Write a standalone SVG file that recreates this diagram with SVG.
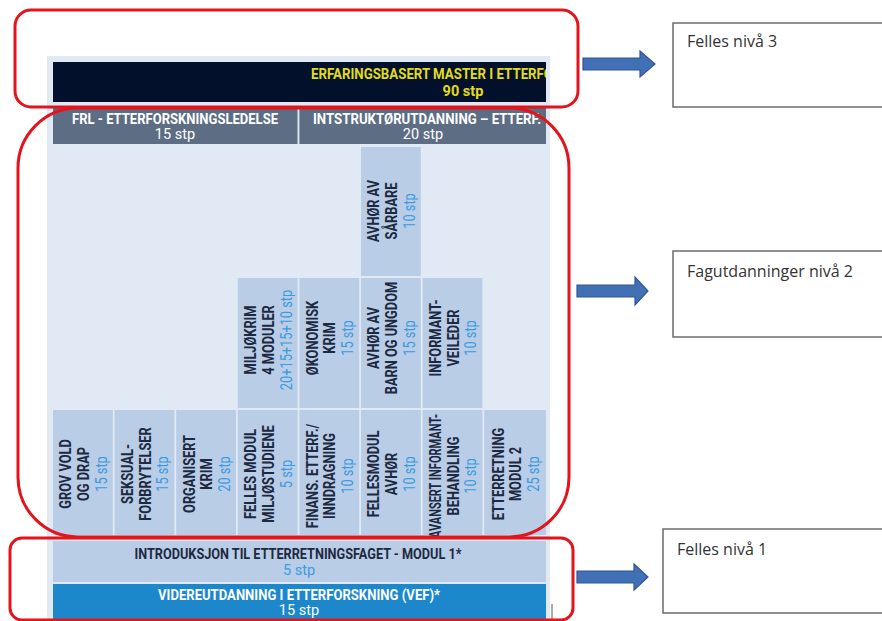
<svg xmlns="http://www.w3.org/2000/svg" width="882" height="621" viewBox="0 0 882 621">
<style>
.panel{fill:#e1e9f4}
.col{fill:#bacde7}
.t{font-family:Roboto,"Liberation Sans",sans-serif;font-weight:bold;font-size:16px;fill:#1c2940;text-anchor:middle}
.s{font-family:Roboto,"Liberation Sans",sans-serif;font-size:16px;fill:#3b9be0;text-anchor:middle}
.h{font-family:Roboto,"Liberation Sans",sans-serif;font-weight:bold;font-size:14px;text-anchor:middle}
.hs{font-family:Roboto,"Liberation Sans",sans-serif;font-size:14.5px;text-anchor:middle}
.red{fill:none;stroke:#e3141b;stroke-width:3}
.lbl{fill:#fff;stroke:#6b6b6b;stroke-width:1.5}
.lt{font-family:"Open Sans","Noto Sans",sans-serif;font-size:16px;fill:#333}
.arr{fill:#4270b4;stroke:#2f5597;stroke-width:1.2}
</style>
<defs>
<clipPath id="clipTop"><rect x="53" y="62" width="493" height="40"/></clipPath>
<clipPath id="clipInst"><rect x="299.4" y="108" width="246.6" height="36"/></clipPath>
</defs>
<rect x="0" y="0" width="882" height="621" fill="#ffffff"/>
<rect class="panel" x="47" y="56" width="503" height="565"/>

<g id="master">
<rect x="53" y="62" width="493" height="40" fill="#03102b"/>
<g clip-path="url(#clipTop)">
<text class="h" x="311" y="79" fill="#e3dc1a" style="text-anchor:start" textLength="242" lengthAdjust="spacingAndGlyphs">ERFARINGSBASERT MASTER I ETTERFO</text>
</g>
<text class="hs" x="463" y="96" fill="#e3dc1a" font-weight="bold">90 stp</text>
</g>

<g id="frl">
<rect x="53" y="108" width="244.5" height="36" fill="#5d6d84"/>
<text class="h" x="175" y="124" fill="#ffffff" textLength="206" lengthAdjust="spacingAndGlyphs">FRL - ETTERFORSKNINGSLEDELSE</text>
<text class="hs" x="175" y="139" fill="#ffffff">15 stp</text>
</g>

<g id="instruktor">
<rect x="299.4" y="108" width="246.6" height="36" fill="#5d6d84"/>
<g clip-path="url(#clipInst)">
<text class="h" x="427" y="124" fill="#ffffff" textLength="228" lengthAdjust="spacingAndGlyphs">INTSTRUKTØRUTDANNING – ETTERF.</text>
</g>
<text class="hs" x="423" y="139" fill="#ffffff">20 stp</text>
</g>

<g id="avhor-sarbare">
<rect class="col" x="361" y="147" width="59.8" height="129"/>
<g transform="translate(390.9,211) rotate(-90) scale(0.8,1)">
<text class="t" y="-11.5">AVHØR AV</text><text class="t" y="6">SÅRBARE</text><text class="s" y="24">10 stp</text>
</g>
</g>

<g id="miljokrim">
<rect class="col" x="237.8" y="278" width="59.8" height="130"/>
<g transform="translate(267.7,340) rotate(-90) scale(0.8,1)">
<text class="t" y="-11.5">MILJØKRIM</text><text class="t" y="6">4 MODULER</text><text class="s" y="24">20+15+15+10 stp</text>
</g>
</g>
<g id="okonomisk">
<rect class="col" x="299.4" y="278" width="59.8" height="130"/>
<g transform="translate(329.3,338) rotate(-90) scale(0.8,1)">
<text class="t" y="-11.5">ØKONOMISK</text><text class="t" y="6">KRIM</text><text class="s" y="24">15 stp</text>
</g>
</g>
<g id="avhor-barn">
<rect class="col" x="361" y="278" width="59.8" height="130"/>
<g transform="translate(390.9,338) rotate(-90) scale(0.8,1)">
<text class="t" y="-11.5">AVHØR AV</text><text class="t" y="6">BARN OG UNGDOM</text><text class="s" y="24">15 stp</text>
</g>
</g>
<g id="informantveileder">
<rect class="col" x="422.6" y="278" width="59.8" height="130"/>
<g transform="translate(452.5,338) rotate(-90) scale(0.8,1)">
<text class="t" y="-11.5">INFORMANT-</text><text class="t" y="6">VEILEDER</text><text class="s" y="24">10 stp</text>
</g>
</g>

<g id="grov-vold">
<rect class="col" x="53" y="410" width="59.8" height="125"/>
<g transform="translate(82.9,474) rotate(-90) scale(0.8,1)">
<text class="t" y="-11.5">GROV VOLD</text><text class="t" y="6">OG DRAP</text><text class="s" y="24">15 stp</text>
</g>
</g>
<g id="seksual">
<rect class="col" x="114.6" y="410" width="59.8" height="125"/>
<g transform="translate(144.5,474) rotate(-90) scale(0.8,1)">
<text class="t" y="-11.5">SEKSUAL-</text><text class="t" y="6">FORBRYTELSER</text><text class="s" y="24">15 stp</text>
</g>
</g>
<g id="organisert">
<rect class="col" x="176.2" y="410" width="59.8" height="125"/>
<g transform="translate(206.1,474) rotate(-90) scale(0.8,1)">
<text class="t" y="-11.5">ORGANISERT</text><text class="t" y="6">KRIM</text><text class="s" y="24">20 stp</text>
</g>
</g>
<g id="felles-miljo">
<rect class="col" x="237.8" y="410" width="59.8" height="125"/>
<g transform="translate(267.7,474) rotate(-90) scale(0.8,1)">
<text class="t" y="-11.5">FELLES MODUL</text><text class="t" y="6">MILJØSTUDIENE</text><text class="s" y="24">5 stp</text>
</g>
</g>
<g id="finans">
<rect class="col" x="299.4" y="410" width="59.8" height="125"/>
<g transform="translate(329.3,476) rotate(-90) scale(0.8,1)">
<text class="t" y="-11.5">FINANS. ETTERF./</text><text class="t" y="6">INNDRAGNING</text><text class="s" y="24">10 stp</text>
</g>
</g>
<g id="fellesmodul-avhor">
<rect class="col" x="361" y="410" width="59.8" height="125"/>
<g transform="translate(390.9,474) rotate(-90) scale(0.8,1)">
<text class="t" y="-11.5">FELLESMODUL</text><text class="t" y="6">AVHØR</text><text class="s" y="24">10 stp</text>
</g>
</g>
<g id="avansert">
<rect class="col" x="422.6" y="410" width="59.8" height="125"/>
<g transform="translate(452.5,476) rotate(-90) scale(0.8,1)">
<text class="t" y="-11.5" textLength="155" lengthAdjust="spacingAndGlyphs">AVANSERT INFORMANT-</text><text class="t" y="6">BEHANDLING</text><text class="s" y="24">10 stp</text>
</g>
</g>
<g id="etterretning2">
<rect class="col" x="484.2" y="410" width="61.8" height="125"/>
<g transform="translate(515,474) rotate(-90) scale(0.8,1)">
<text class="t" y="-11.5">ETTERRETNING</text><text class="t" y="6">MODUL 2</text><text class="s" y="24">25 stp</text>
</g>
</g>

<g id="intro">
<rect class="col" x="53" y="541" width="493" height="41"/>
<text class="h" x="298" y="559" fill="#1c2940" textLength="327" lengthAdjust="spacingAndGlyphs">INTRODUKSJON TIL ETTERRETNINGSFAGET - MODUL 1*</text>
<text class="hs" x="299" y="575" fill="#3b9be0">5 stp</text>
</g>
<g id="vef">
<rect x="53" y="584" width="493" height="37" fill="#1c88cb"/>
<text class="h" x="299" y="600" fill="#ffffff" textLength="282" lengthAdjust="spacingAndGlyphs">VIDEREUTDANNING I ETTERFORSKNING (VEF)*</text>
<text class="hs" x="299" y="615" fill="#ffffff">15 stp</text>
</g>
<line x1="552" y1="604" x2="552" y2="621" stroke="#555" stroke-width="1"/>

<g id="outlines">
<rect class="red" x="15" y="10" width="563" height="97" rx="16"/>
<rect class="red" x="18" y="108" width="551" height="429" rx="60"/>
<rect class="red" x="10" y="538" width="563" height="82" rx="12"/>
</g>

<g id="connectors">
<polygon class="arr" points="583,58 640,58 640,51 655,64 640,77 640,70 583,70"/>
<polygon class="arr" points="577,285 635,285 635,277 648,291 635,305 635,297 577,297"/>
<polygon class="arr" points="577,571 634,571 634,564 648,577 634,590 634,583 577,583"/>
</g>

<g id="niva3">
<rect class="lbl" x="673" y="23" width="220" height="84"/>
<text class="lt" x="687" y="47">Felles nivå 3</text>
</g>
<g id="niva2">
<rect class="lbl" x="673" y="251" width="220" height="86"/>
<text class="lt" x="687" y="277">Fagutdanninger  nivå 2</text>
</g>
<g id="niva1">
<rect class="lbl" x="663" y="529" width="230" height="84"/>
<text class="lt" x="677" y="555">Felles nivå 1</text>
</g>
</svg>
